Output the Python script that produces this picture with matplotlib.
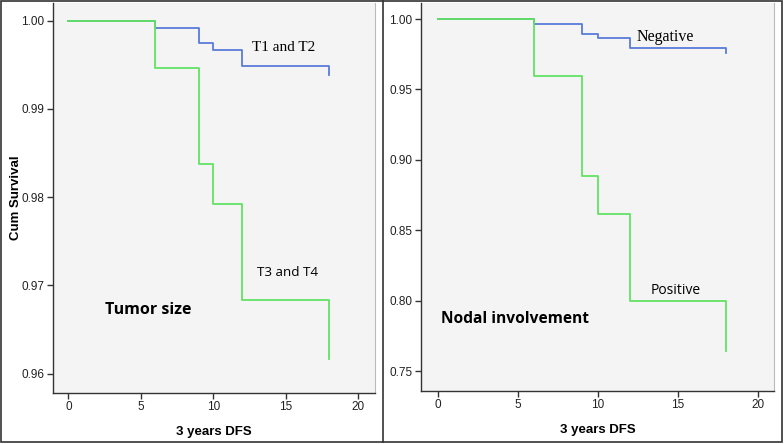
import matplotlib
matplotlib.use("Agg")
import matplotlib.pyplot as plt
from matplotlib.patches import Rectangle
from matplotlib.lines import Line2D

# Data
event_times = [0, 6, 9, 10, 12, 18]
surv_t12 = [1.0, 0.99914, 0.99744, 0.99668, 0.99487, 0.99382]
surv_t34 = [1.0, 0.99463, 0.98377, 0.97924, 0.96829, 0.96161]
surv_neg = [1.0, 0.99644, 0.98933, 0.98670, 0.97937, 0.97560]
surv_pos = [1.0, 0.95990, 0.88880, 0.86140, 0.79960, 0.76400]
xticks = [0, 5, 10, 15, 20]
yticks_left = [0.96, 0.97, 0.98, 0.99, 1.00]
yticks_right = [0.75, 0.80, 0.85, 0.90, 0.95, 1.00]

BLUE = "#5A7BDA"
GREEN = "#62E362"
W, H = 784, 444

fig = plt.figure(figsize=(7.84, 4.44), dpi=100)
fig.patch.set_facecolor("white")

def make_ax(l, r, b, t):
    ax = fig.add_axes([l / W, 1 - b / H, (r - l) / W, (b - t) / H])
    ax.set_facecolor("#F4F4F4")
    ax.spines["top"].set_visible(False)
    ax.spines["right"].set_color("#BBBBBB")
    ax.spines["right"].set_linewidth(0.8)
    for s in ("left", "bottom"):
        ax.spines[s].set_color("#333333")
        ax.spines[s].set_linewidth(1.0)
    ax.tick_params(axis="both", direction="out", length=4, width=1,
                   color="#333333", labelsize=8.5, labelcolor="#222222", pad=2)
    return ax

# Left panel
ax1 = make_ax(53, 375, 393, 3)
ax1.step(event_times, surv_t12, where="post", color=BLUE, lw=1.3)
ax1.step(event_times, surv_t34, where="post", color=GREEN, lw=1.3)
ax1.set_xlim(-1.06, 21.15)
ax1.set_ylim(0.9578, 1.0020)
ax1.set_yticks(yticks_left)
ax1.set_yticklabels([f"{v:.2f}" for v in yticks_left], fontfamily="Liberation Sans")
ax1.set_xticks(xticks)
ax1.set_xticklabels([str(v) for v in xticks], fontfamily="Liberation Sans")
ax1.set_xlabel("3 years DFS", fontsize=9.5, fontweight="bold", family="Liberation Sans", labelpad=9)
ax1.set_ylabel("Cum Survival", fontsize=9.5, fontweight="bold", family="Liberation Sans")
ax1.yaxis.set_label_coords(-0.097, 0.5)
ax1.text(12.7, 0.99691, "T1 and T2", family="Liberation Serif", fontsize=11, va="center", ha="left")
ax1.text(13.0, 0.97151, "T3 and T4", family="Open Sans", fontsize=9.7, va="center", ha="left")
ax1.text(2.5, 0.96725, "Tumor size", family="Open Sans", fontweight="bold", fontsize=11.5, va="center", ha="left")

# Right panel
ax2 = make_ax(421, 774, 391, 3)
ax2.step(event_times, surv_neg, where="post", color=BLUE, lw=1.3)
ax2.step(event_times, surv_pos, where="post", color=GREEN, lw=1.3)
ax2.set_xlim(-1.08, 21.02)
ax2.set_ylim(0.7358, 1.0114)
ax2.set_yticks(yticks_right)
ax2.set_yticklabels([f"{v:.2f}" for v in yticks_right], fontfamily="Liberation Sans")
ax2.set_xticks(xticks)
ax2.set_xticklabels([str(v) for v in xticks], fontfamily="Liberation Sans")
ax2.set_xlabel("3 years DFS", fontsize=9.5, fontweight="bold", family="Liberation Sans", labelpad=9)
ax2.text(12.44, 0.9869, "Negative", family="Liberation Serif", fontsize=11.5, va="center", ha="left")
ax2.text(13.3, 0.8072, "Positive", family="Open Sans", fontsize=10, va="center", ha="left")
ax2.text(0.2, 0.7868, "Nodal involvement", family="Open Sans", fontweight="bold", fontsize=11.2, va="center", ha="left")

# Panel borders
fig.add_artist(Rectangle((1 / W, 1 - 442 / H), 781 / W, 441 / H, transform=fig.transFigure,
                         fill=False, edgecolor="#333333", lw=1.2))
fig.add_artist(Line2D([383 / W, 383 / W], [1 - 442 / H, 1 - 1 / H], transform=fig.transFigure,
                      color="#333333", lw=1.2))

fig.savefig("out.png", dpi=100)
